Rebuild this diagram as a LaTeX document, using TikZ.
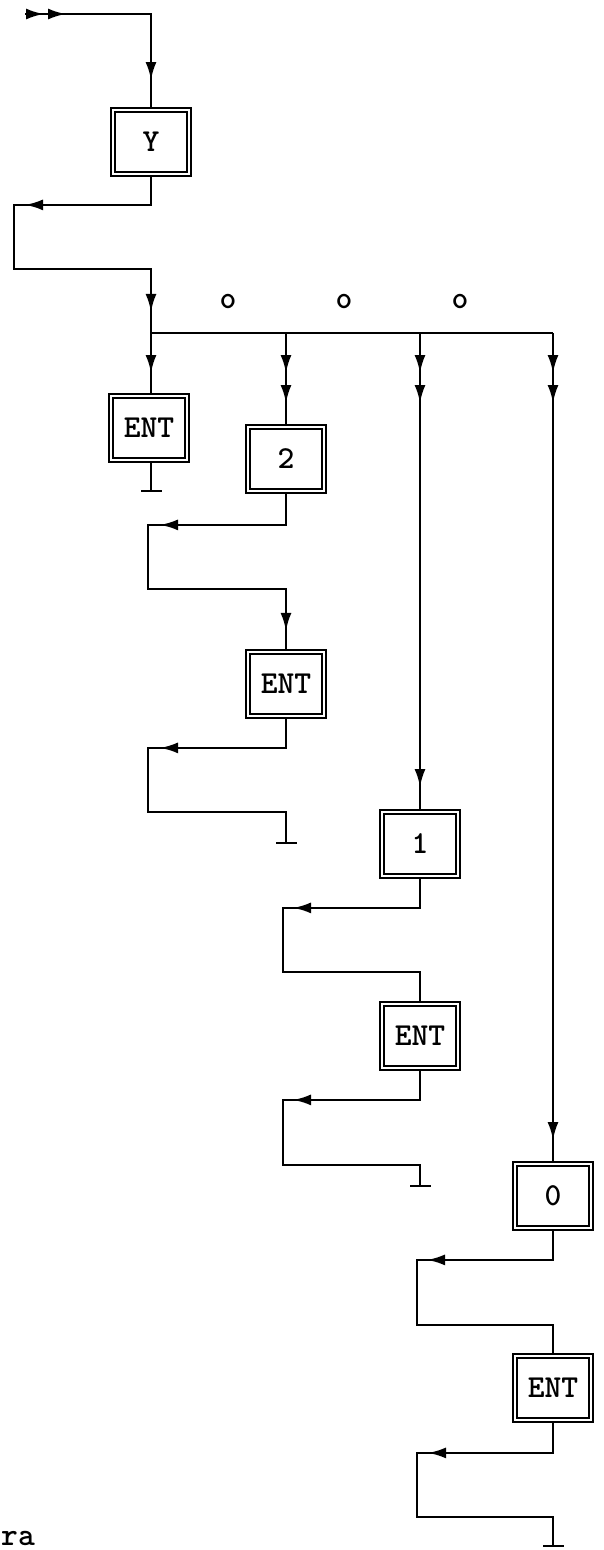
\documentclass[tikz,border=0pt]{standalone}
\usetikzlibrary{arrows.meta,decorations.markings}

\begin{document}
\begin{tikzpicture}[x=1pt, y=-1pt, line join=miter]

% --- Styles ---
\tikzset{
    flow/.style={
        draw=black,
        line width=2.5pt
    },
    arrowat/.style={
        postaction={decorate, decoration={markings,
            mark=at position #1 with {\arrow{Latex[length=18pt 0 0,width=11pt 0 0]}}}}
    },
    endbar/.style={
        -{Bar[width=21pt 0 0]}
    },
    keybox/.style={
        draw=black,
        double=white,
        double distance=1.8pt,
        line width=2pt,
        minimum width=76pt,
        minimum height=64pt,
        inner sep=0pt,
        outer sep=2.9pt,
        font=\fontsize{32}{32}\ttfamily\bfseries
    },
    gapmark/.style={
        inner sep=0pt,
        font=\fontsize{32}{32}\ttfamily\bfseries
    }
}

\useasboundingbox (0,0) rectangle (603,1550);

% --- Tasten ---
\node[keybox] (keyY) at (151,142) {Y};
\node[keybox] (entA) at (149,428) {ENT};
\node[keybox] (key2) at (286,459) {2};
\node[keybox] (entB) at (286,684) {ENT};
\node[keybox] (key1) at (420,844) {1};
\node[keybox] (entC) at (420,1036) {ENT};
\node[keybox] (key0) at (553,1196) {0};
\node[keybox] (entD) at (553,1388) {ENT};

% --- Punkte ueber der Verzweigung ---
\node[gapmark] (gap1) at (228,301) {o};
\node[gapmark] (gap2) at (344,301) {o};
\node[gapmark] (gap3) at (460,301) {o};

% --- Hilfspunkte ---
\coordinate (start) at (25,14);
\coordinate (bus1) at (151,333);
\coordinate (bus2) at (286,333);
\coordinate (bus3) at (420,333);
\coordinate (bus4) at (553,333);
\coordinate (endA) at (151,492);
\coordinate (endB) at (286,844);
\coordinate (endC) at (420,1187);
\coordinate (endD) at (553,1547);

% --- Eingang und Taste Y ---
\draw[flow, arrowat=19pt, arrowat=41pt, arrowat=192pt]
    (start) -| (keyY.north);
\draw[flow, arrowat=154pt, arrowat=409pt]
    (keyY.south) -- ++(0,28) -- ++(-137,0) -- ++(0,64) -| (bus1);

% --- Verzweigung ---
\draw[flow] (bus1) -- (bus4);
\draw[flow, arrowat=40pt] (bus1) -- (bus1 |- entA.north);
\draw[flow, arrowat=40pt, arrowat=70pt] (bus2) -- (key2.north);
\draw[flow, arrowat=40pt, arrowat=70pt, arrowat=454pt] (bus3) -- (key1.north);
\draw[flow, arrowat=40pt, arrowat=70pt, arrowat=807pt] (bus4) -- (key0.north);

% --- Zweig ENT ---
\draw[flow, endbar] (bus1 |- entA.south) -- (endA);

% --- Zweig 2 ---
\draw[flow, arrowat=157pt, arrowat=413pt]
    (key2.south) -- ++(0,31) -- ++(-138,0) -- ++(0,64) -| (entB.north);
\draw[flow, endbar, arrowat=155pt]
    (entB.south) -- ++(0,29) -- ++(-138,0) -- ++(0,64) -| (endB);

% --- Zweig 1 ---
\draw[flow, arrowat=156pt]
    (key1.south) -- ++(0,29) -- ++(-137,0) -- ++(0,64) -| (entC.north);
\draw[flow, endbar, arrowat=156pt]
    (entC.south) -- ++(0,29) -- ++(-137,0) -- ++(0,65) -| (endC);

% --- Zweig 0 ---
\draw[flow, arrowat=155pt]
    (key0.south) -- ++(0,29) -- ++(-136,0) -- ++(0,65) -| (entD.north);
\draw[flow, endbar, arrowat=155pt]
    (entD.south) -- ++(0,30) -- ++(-136,0) -- ++(0,64) -| (endD);

% --- Textrest unten links ---
\node[gapmark, anchor=base west] (fragment) at (1,1545) {ra};

\end{tikzpicture}
\end{document}
